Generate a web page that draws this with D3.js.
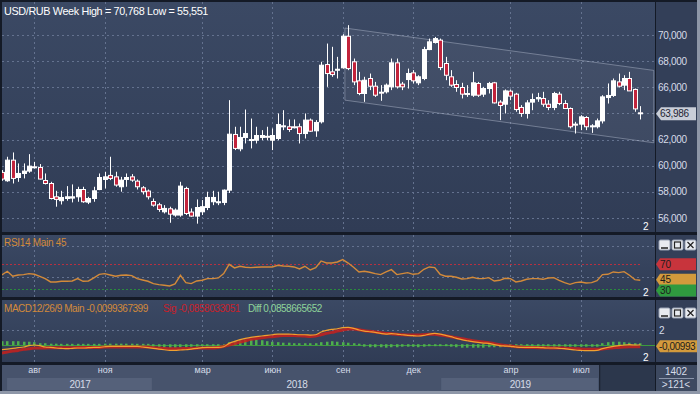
<!DOCTYPE html>
<html>
<head>
<meta charset="utf-8">
<script src="https://cdn.jsdelivr.net/npm/d3@7"></script>
<style>
    html, body { margin: 0; padding: 0; background: #8e97a8; }
    svg { display: block; font-family: "Liberation Sans", Arial, sans-serif; }
</style>
</head>
<body>
<svg id="chart" width="700" height="394"></svg>
<script>
// Weekly USD/RUB candles, Jun 2017 - Sep 2019 (one entry per week)
const opens = [
    59.48, 58.84, 60.42, 59.09, 59.40, 59.58, 59.91, 59.86, 58.86, 58.63,
    57.61, 57.31, 57.48, 57.51, 57.61, 58.17, 57.20, 57.48, 58.17, 58.94,
    59.25, 59.14, 58.38, 58.94, 59.14, 58.81, 58.30, 58.05, 57.25, 57.00,
    56.46, 56.69, 56.21, 56.21, 58.25, 56.44, 56.13, 56.46, 56.79, 57.23,
    57.20, 57.18, 58.12, 62.39, 61.29, 62.16, 61.95, 61.95, 62.16, 62.25,
    61.95, 62.08, 63.00, 62.98, 62.98, 62.98, 62.46, 63.49, 62.67, 63.36,
    67.75, 67.19, 67.35, 67.50, 69.92, 67.96, 66.50, 65.53, 66.68, 66.09,
    65.63, 65.66, 66.04, 67.88, 66.25, 66.60, 67.11, 66.35, 66.68, 68.90,
    69.44, 69.62, 67.83, 66.81, 66.22, 65.99, 65.53, 65.40, 66.30, 65.48,
    65.91, 66.35, 64.87, 64.71, 65.71, 65.48, 64.46, 64.00, 64.87, 65.12,
    65.15, 64.71, 64.46, 65.48, 64.76, 64.38, 63.18, 63.18, 63.69, 63.03,
    62.98, 63.43, 65.22, 65.38, 66.42, 66.17, 66.68, 65.84, 64.05
];
const highs = [
    59.66, 60.68, 61.01, 60.17, 60.17, 60.88, 60.29, 60.12, 59.40, 58.76,
    58.07, 58.07, 58.43, 58.56, 58.38, 58.38, 57.61, 58.38, 59.40, 59.53,
    60.68, 59.53, 59.14, 59.40, 59.35, 58.94, 58.43, 58.17, 57.48, 57.15,
    56.97, 56.85, 56.72, 58.76, 58.38, 56.72, 57.41, 57.36, 58.00, 58.07,
    58.00, 58.17, 65.02, 62.98, 62.98, 64.30, 63.61, 62.98, 62.72, 62.98,
    62.85, 64.00, 64.25, 63.54, 63.54, 63.23, 64.00, 63.61, 63.49, 67.96,
    69.36, 69.11, 68.34, 70.08, 70.77, 68.21, 67.19, 66.81, 67.06, 66.42,
    66.17, 66.30, 68.21, 68.21, 66.42, 67.44, 67.32, 66.93, 69.11, 69.74,
    69.87, 69.74, 68.34, 67.32, 66.55, 66.35, 66.17, 67.19, 66.42, 66.04,
    66.42, 66.42, 65.02, 65.84, 65.84, 65.58, 64.64, 65.02, 65.53, 65.58,
    65.66, 65.02, 65.66, 65.66, 65.02, 64.46, 63.36, 63.87, 63.79, 63.18,
    63.61, 65.40, 66.30, 66.68, 67.06, 66.93, 67.19, 65.91, 64.56
];
const lows = [
    58.84, 58.76, 58.63, 58.76, 59.02, 59.45, 59.78, 58.94, 58.56, 57.41,
    56.85, 57.02, 57.31, 57.18, 57.23, 57.15, 57.05, 57.23, 58.12, 58.25,
    58.89, 58.38, 58.00, 58.38, 58.76, 58.17, 57.79, 57.41, 56.85, 56.46,
    56.33, 55.62, 56.08, 56.08, 56.21, 56.08, 55.55, 56.21, 56.59, 56.97,
    56.97, 56.97, 57.90, 61.19, 61.10, 61.70, 61.32, 61.70, 61.95, 61.95,
    61.19, 61.95, 62.72, 62.59, 62.85, 61.70, 62.08, 62.59, 62.21, 63.23,
    66.04, 66.81, 66.68, 67.44, 67.32, 66.17, 65.40, 64.89, 65.79, 65.27,
    64.97, 65.53, 65.79, 65.91, 65.79, 65.91, 66.30, 66.17, 66.55, 68.85,
    69.36, 67.32, 66.55, 66.04, 65.66, 65.15, 65.27, 65.27, 65.27, 65.27,
    65.53, 64.76, 63.49, 64.00, 65.02, 64.13, 63.74, 63.61, 64.25, 64.89,
    64.51, 64.25, 64.25, 64.64, 64.38, 62.85, 62.46, 62.72, 62.72, 62.51,
    62.85, 63.23, 64.76, 65.27, 65.99, 65.79, 65.73, 64.13, 63.54
];
const closes = [
    58.97, 60.42, 59.02, 59.40, 59.58, 59.96, 59.86, 58.97, 58.63, 57.48,
    57.41, 57.56, 57.61, 57.61, 58.17, 57.23, 57.48, 58.07, 59.09, 59.14,
    59.02, 58.51, 58.89, 59.09, 58.89, 58.38, 58.00, 57.61, 56.97, 56.64,
    56.72, 56.28, 56.59, 58.43, 56.33, 56.13, 56.79, 56.85, 57.56, 57.56,
    57.23, 58.12, 62.41, 61.32, 62.16, 62.46, 62.00, 62.31, 62.31, 62.21,
    62.31, 63.15, 63.05, 62.77, 62.95, 62.46, 63.49, 62.64, 63.31, 67.70,
    67.06, 66.98, 67.39, 69.92, 67.44, 66.42, 65.53, 66.55, 66.09, 65.40,
    65.61, 66.17, 67.88, 66.04, 66.04, 67.06, 66.50, 66.81, 68.90, 69.49,
    69.74, 67.52, 66.93, 66.17, 65.99, 65.48, 65.45, 66.35, 65.40, 65.91,
    66.30, 64.81, 64.61, 65.73, 65.33, 64.30, 64.00, 64.81, 65.07, 65.22,
    64.71, 64.46, 65.53, 64.76, 64.38, 62.98, 63.13, 63.74, 62.98, 63.05,
    63.43, 65.27, 65.38, 66.50, 66.09, 66.68, 65.73, 64.35, 63.986
];

// RSI(14) per week
const rsiValues = [
    53.0, 58.7, 50.6, 52.7, 53.3, 54.9, 53.8, 50.6, 46.8, 41.4,
    41.4, 42.5, 42.5, 43.0, 46.8, 42.5, 43.0, 47.9, 53.8, 54.9,
    52.7, 50.6, 52.2, 52.7, 51.7, 46.8, 44.6, 42.5, 38.7, 37.1,
    36.0, 34.9, 38.2, 52.2, 40.3, 38.7, 43.0, 44.1, 46.8, 46.8,
    47.9, 54.9, 70.0, 64.1, 66.8, 65.2, 64.6, 65.2, 65.7, 65.7,
    65.7, 68.4, 67.3, 66.8, 65.7, 62.5, 66.8, 60.8, 64.6, 75.4,
    72.2, 72.2, 73.8, 77.6, 72.0, 65.2, 57.6, 58.7, 57.1, 54.9,
    53.3, 57.6, 61.4, 53.3, 54.9, 56.5, 53.8, 54.9, 61.9, 65.7,
    64.6, 53.8, 50.6, 50.6, 49.0, 46.3, 46.8, 49.0, 46.8, 46.8,
    48.4, 43.0, 44.1, 47.3, 46.8, 41.4, 43.0, 45.7, 46.8, 46.8,
    45.7, 47.9, 48.4, 44.1, 40.3, 37.6, 40.3, 41.4, 39.8, 40.3,
    43.5, 53.3, 53.8, 57.6, 56.5, 58.1, 52.2, 45.2, 44.1
];
const rsiLevels = [70, 45, 30];
const rsiLevelLabels = ['70', '45', '30'];

// MACD(12,26,9) per week
const macdMain = [
    -0.67, -0.58, -0.49, -0.40, -0.31, -0.13, -0.04, -0.13, -0.31, -0.36,
    -0.44, -0.49, -0.53, -0.49, -0.44, -0.44, -0.40, -0.36, -0.36, -0.27,
    -0.22, -0.22, -0.22, -0.22, -0.22, -0.22, -0.31, -0.40, -0.49, -0.58,
    -0.67, -0.76, -0.76, -0.71, -0.67, -0.58, -0.49, -0.40, -0.36, -0.36,
    -0.36, -0.27, 0.18, 0.44, 0.67, 0.84, 0.98, 1.07, 1.16, 1.24,
    1.33, 1.42, 1.42, 1.42, 1.38, 1.33, 1.33, 1.29, 1.33, 1.69,
    1.91, 2.04, 2.13, 2.27, 2.31, 2.18, 1.96, 1.82, 1.73, 1.64,
    1.51, 1.42, 1.47, 1.42, 1.33, 1.24, 1.20, 1.16, 1.24, 1.42,
    1.51, 1.42, 1.24, 1.07, 0.84, 0.67, 0.53, 0.40, 0.31, 0.22,
    0.18, 0.00, -0.13, -0.18, -0.22, -0.31, -0.36, -0.36, -0.36, -0.36,
    -0.40, -0.44, -0.44, -0.49, -0.53, -0.62, -0.71, -0.76, -0.80, -0.80,
    -0.76, -0.53, -0.36, -0.22, -0.13, -0.04, 0.00, -0.04, -0.01
];
const macdSignal = [
    -1.11, -0.98, -0.84, -0.76, -0.62, -0.53, -0.44, -0.44, -0.44, -0.40,
    -0.40, -0.40, -0.40, -0.40, -0.38, -0.38, -0.36, -0.36, -0.36, -0.31,
    -0.31, -0.31, -0.31, -0.31, -0.31, -0.31, -0.31, -0.31, -0.40, -0.44,
    -0.49, -0.53, -0.53, -0.53, -0.49, -0.49, -0.46, -0.44, -0.44, -0.44,
    -0.36, -0.22, -0.04, 0.13, 0.36, 0.53, 0.71, 0.84, 0.93, 1.02,
    1.07, 1.16, 1.24, 1.24, 1.22, 1.18, 1.15, 1.11, 1.16, 1.33,
    1.51, 1.64, 1.82, 1.96, 2.09, 2.09, 2.00, 1.87, 1.78, 1.69,
    1.60, 1.51, 1.47, 1.38, 1.33, 1.29, 1.29, 1.29, 1.33, 1.38,
    1.38, 1.29, 1.20, 1.07, 0.93, 0.80, 0.67, 0.53, 0.44, 0.36,
    0.27, 0.13, 0.00, -0.09, -0.18, -0.27, -0.31, -0.36, -0.38, -0.40,
    -0.40, -0.42, -0.44, -0.44, -0.46, -0.49, -0.53, -0.58, -0.62, -0.62,
    -0.62, -0.58, -0.49, -0.40, -0.36, -0.31, -0.27, -0.27, -0.27
];
const macdHist = [
    0.40, 0.40, 0.40, 0.40, 0.33, 0.33, 0.27, 0.13, 0.13, 0.07,
    0.07, 0.05, 0.05, 0.05, 0.05, 0.05, 0.05, 0.05, 0.05, 0.07,
    0.07, 0.07, 0.07, 0.07, 0.07, 0.05, 0.05, 0.05, -0.20, -0.27,
    -0.33, -0.33, -0.33, -0.27, -0.27, -0.20, -0.20, -0.13, -0.13, -0.13,
    -0.07, -0.07, 0.27, 0.40, 0.53, 0.60, 0.67, 0.60, 0.53, 0.40,
    0.33, 0.27, 0.20, 0.20, 0.13, 0.13, 0.13, 0.13, 0.13, 0.27,
    0.33, 0.40, 0.33, 0.27, 0.20, 0.13, 0.07, -0.20, -0.27, -0.27,
    -0.27, -0.33, -0.27, -0.27, -0.20, -0.20, -0.20, -0.27, -0.20, -0.13,
    -0.07, -0.07, -0.13, -0.20, -0.27, -0.33, -0.33, -0.33, -0.33, -0.33,
    -0.27, -0.27, -0.27, -0.20, -0.20, -0.20, -0.13, -0.13, -0.20, -0.20,
    -0.20, -0.20, -0.20, -0.20, -0.20, -0.20, -0.20, -0.20, -0.20, -0.20,
    -0.20, 0.13, 0.27, 0.33, 0.33, 0.27, 0.20, 0.13, 0.13
];

// Time axis (week index where each month / year starts)
const monthTickIdx = [6, 19, 37, 50, 63, 76, 94, 107];
const monthLabels = ['авг', 'ноя', 'мар', 'июн', 'сен', 'дек', 'апр', 'июл'];
const yearLabels = ['2017', '2018', '2019'];
const yearStartIdx = [0.95, 27.9, 81.2];
const yearEndIdx = [27.9, 81.2, 110.4];

// Price axis ticks
const priceTicks = [56, 58, 60, 62, 64, 66, 68, 70];

// Descending channel drawn on the chart: [week index, price]
const channelUpper = [[63.4, 70.55], [120.5, 67.30]];
const channelLower = [[63.4, 65.02], [120.5, 61.75]];

const lastPrice = 63.986;

// ---------------------------------------------------------------
const svg = d3.select('#chart');

// Layout of the panels
const plotLeft = 2, plotRight = 655, colRight = 697;
const mainP = {top: 2, bottom: 232};
const rsiP = {top: 235, bottom: 297};
const macdP = {top: 300, bottom: 362};
const axisP = {top: 365, bottom: 391};

const colors = {
    frame: '#141a26',
    panelTop: '#3b4964',
    panelBottom: '#303c55',
    column: '#333f58',
    grid: '#64728f',
    text: '#d6dce8',
    up: '#ffffff',
    down: '#c2243c',
    rsi: '#d38a3a',
    macd: '#f0a030',
    signal: '#c8201c',
    hist: '#4fae4f',
    zero: '#3c9a3c'
};

// Numbers use a comma as decimal separator
const ru = d3.formatLocale({decimal: ',', thousands: ' ', grouping: [3], currency: ['', '']});
const fmt3 = ru.format('.3f');

// Scales
const x = d3.scaleLinear().domain([0, 118]).range([1.9, 640.3]);
const yPrice = d3.scaleLinear().domain([56, 70]).range([217.8, 35.2]);
const yRsi = d3.scaleLinear().domain([30, 70]).range([289, 264.3]);
const yMacd = d3.scaleLinear().domain([-2, 2]).range([359.7, 329.7]);

// Gradient for the panel background
const defs = svg.append('defs');
const grad = defs.append('linearGradient').attr('id', 'panelGrad')
    .attr('x1', 0).attr('y1', 0).attr('x2', 0).attr('y2', 1);
grad.append('stop').attr('offset', '0%').attr('stop-color', colors.panelTop);
grad.append('stop').attr('offset', '100%').attr('stop-color', colors.panelBottom);

[mainP, rsiP, macdP].forEach((p, k) => {
    defs.append('clipPath').attr('id', 'clip' + k)
        .append('rect')
        .attr('x', plotLeft).attr('y', p.top)
        .attr('width', plotRight - plotLeft).attr('height', p.bottom - p.top);
});

// Frame and panel backgrounds
svg.append('rect').attr('width', 700).attr('height', 394).attr('fill', colors.frame);
svg.append('rect').attr('x', 697).attr('y', 0).attr('width', 3).attr('height', 394).attr('fill', '#8e97a8');
svg.append('rect').attr('x', 0).attr('y', 391).attr('width', 700).attr('height', 3).attr('fill', '#8e97a8');

[mainP, rsiP, macdP].forEach((p) => {
    svg.append('rect')
        .attr('x', plotLeft).attr('y', p.top)
        .attr('width', plotRight - plotLeft).attr('height', p.bottom - p.top)
        .attr('fill', 'url(#panelGrad)');
    svg.append('rect')
        .attr('x', plotRight + 1).attr('y', p.top)
        .attr('width', colRight - plotRight - 1).attr('height', p.bottom - p.top)
        .attr('fill', colors.column);
});

// Vertical grid lines at month starts, in all three panels
[mainP, rsiP, macdP].forEach((p) => {
    svg.append('g').selectAll('line')
        .data(monthTickIdx)
        .join('line')
        .attr('x1', d => Math.round(x(d)) + 0.5)
        .attr('x2', d => Math.round(x(d)) + 0.5)
        .attr('y1', p.top)
        .attr('y2', p.bottom)
        .attr('stroke', colors.grid)
        .attr('stroke-dasharray', '2,3');
});

// ---------------- Main price panel ----------------
const main = svg.append('g').attr('clip-path', 'url(#clip0)');

main.append('g').selectAll('line')
    .data(priceTicks)
    .join('line')
    .attr('x1', plotLeft).attr('x2', plotRight)
    .attr('y1', d => Math.round(yPrice(d)) + 0.5)
    .attr('y2', d => Math.round(yPrice(d)) + 0.5)
    .attr('stroke', colors.grid)
    .attr('stroke-dasharray', '2,3');

// Channel (filled parallelogram)
const chanPts = channelUpper.concat(channelLower.slice().reverse());
main.append('path')
    .attr('d', d3.line().x(d => x(d[0])).y(d => yPrice(d[1]))(chanPts) + 'Z')
    .attr('fill', '#ffffff').attr('fill-opacity', 0.05)
    .attr('stroke', '#c8d0e0').attr('stroke-opacity', 0.4).attr('stroke-width', 1);

// Candles
const weeks = d3.range(opens.length);
const candles = main.append('g').selectAll('g')
    .data(weeks)
    .join('g');

candles.append('line')
    .attr('x1', i => Math.round(x(i)) + 0.5)
    .attr('x2', i => Math.round(x(i)) + 0.5)
    .attr('y1', i => yPrice(highs[i]))
    .attr('y2', i => yPrice(lows[i]))
    .attr('stroke', '#ffffff');

candles.append('rect')
    .attr('x', i => Math.round(x(i)) - 1.5)
    .attr('width', 4)
    .attr('y', i => Math.min(yPrice(opens[i]), yPrice(closes[i])))
    .attr('height', i => Math.max(1, Math.abs(yPrice(opens[i]) - yPrice(closes[i]))))
    .attr('fill', i => closes[i] < opens[i] ? colors.down : colors.up)
    .attr('stroke', '#ffffff')
    .attr('stroke-width', 1);

// Title
svg.append('text')
    .attr('x', 4).attr('y', 15)
    .attr('fill', '#ffffff')
    .attr('font-size', 10.8)
    .attr('letter-spacing', -0.35)
    .text('USD/RUB Week High = 70,768 Low = 55,551');

// Price axis on the right (the label under the last-price tag is hidden)
const tagY = yPrice(lastPrice);
const priceAxis = d3.axisRight(yPrice)
    .tickValues(priceTicks.filter(d => Math.abs(yPrice(d) - tagY) > 9))
    .tickSize(0)
    .tickPadding(3)
    .tickFormat(d => fmt3(d));
const pa = svg.append('g')
    .attr('transform', `translate(${plotRight},0)`)
    .call(priceAxis);
pa.select('.domain').remove();
pa.selectAll('text')
    .attr('fill', colors.text)
    .attr('font-size', 10)
    .attr('font-family', '"Liberation Sans", Arial, sans-serif')
    .attr('letter-spacing', -0.3);

// Last price tag
svg.append('path')
    .attr('d', `M${plotRight + 1},${tagY} L${plotRight + 6},${tagY - 6.5} L${colRight - 1},${tagY - 6.5} L${colRight - 1},${tagY + 6.5} L${plotRight + 6},${tagY + 6.5}Z`)
    .attr('fill', '#c9ced8');
svg.append('text')
    .attr('x', plotRight + 5).attr('y', tagY + 3.5)
    .attr('fill', '#1d2433').attr('font-size', 10).attr('letter-spacing', -0.3)
    .text(fmt3(lastPrice));

// Small panel numbers in the corner
function cornerLabel(px, py) {
    svg.append('text')
        .attr('x', px).attr('y', py)
        .attr('fill', '#ffffff').attr('font-size', 10)
        .text('2');
}
cornerLabel(643, mainP.bottom - 2);
cornerLabel(643, rsiP.bottom - 1);
cornerLabel(643, macdP.bottom - 1);

// ---------------- RSI panel ----------------
const rsiG = svg.append('g').attr('clip-path', 'url(#clip1)');

rsiG.append('g').selectAll('line')
    .data([50, 100])
    .join('line')
    .attr('x1', plotLeft).attr('x2', plotRight)
    .attr('y1', d => Math.round(yRsi(d)) + 0.5)
    .attr('y2', d => Math.round(yRsi(d)) + 0.5)
    .attr('stroke', colors.grid)
    .attr('stroke-dasharray', '2,3');

const levelColors = ['#b83040', '#2a8a3e'];
rsiG.append('g').selectAll('line')
    .data([70, 30])
    .join('line')
    .attr('x1', plotLeft).attr('x2', x(118))
    .attr('y1', d => Math.round(yRsi(d)) + 0.5)
    .attr('y2', d => Math.round(yRsi(d)) + 0.5)
    .attr('stroke', (d, k) => levelColors[k])
    .attr('stroke-dasharray', '2,2');

rsiG.append('path')
    .datum(rsiValues)
    .attr('d', d3.line().x((d, i) => x(i)).y(d => yRsi(d)))
    .attr('fill', 'none')
    .attr('stroke', colors.rsi)
    .attr('stroke-width', 1.4);

svg.append('text')
    .attr('x', 4).attr('y', rsiP.top + 11)
    .attr('fill', colors.rsi).attr('font-size', 10).attr('letter-spacing', -0.3)
    .text('RSI14  Main 45');

// RSI level tags on the right
const tagFill = ['#c8343c', '#d39a3c', '#2f9a3f'];
const tagTop = [yRsi(70) - 6, yRsi(45) - 6, yRsi(30) - 4.5];
rsiLevels.forEach((lv, k) => {
    const cy = tagTop[k] + 6;
    svg.append('path')
        .attr('d', `M${plotRight + 1},${cy} L${plotRight + 5},${tagTop[k]} L${colRight - 1},${tagTop[k]} L${colRight - 1},${tagTop[k] + 12} L${plotRight + 5},${tagTop[k] + 12}Z`)
        .attr('fill', tagFill[k]);
    svg.append('text')
        .attr('x', plotRight + 5).attr('y', cy + 3.5)
        .attr('fill', '#1d1d1d').attr('font-size', 10)
        .text(rsiLevelLabels[k]);
});

// ---------------- MACD panel ----------------
const macdG = svg.append('g').attr('clip-path', 'url(#clip2)');

macdG.append('line')
    .attr('x1', plotLeft).attr('x2', plotRight)
    .attr('y1', Math.round(yMacd(2)) + 0.5).attr('y2', Math.round(yMacd(2)) + 0.5)
    .attr('stroke', colors.grid).attr('stroke-dasharray', '2,3');

macdG.append('line')
    .attr('x1', plotLeft).attr('x2', plotRight)
    .attr('y1', Math.round(yMacd(0)) + 0.5).attr('y2', Math.round(yMacd(0)) + 0.5)
    .attr('stroke', colors.zero).attr('stroke-width', 1);

macdG.append('g').selectAll('rect')
    .data(macdHist)
    .join('rect')
    .attr('x', (d, i) => Math.round(x(i)) - 1)
    .attr('width', 2.5)
    .attr('y', d => Math.min(yMacd(0), yMacd(d)) - 0.5)
    .attr('height', d => Math.max(2, Math.abs(yMacd(d) - yMacd(0)) + 1))
    .attr('fill', colors.hist);

macdG.append('path')
    .datum(macdSignal)
    .attr('d', d3.line().x((d, i) => x(i)).y(d => yMacd(d)).curve(d3.curveMonotoneX))
    .attr('fill', 'none')
    .attr('stroke', colors.signal)
    .attr('stroke-width', 3)
    .attr('stroke-opacity', 0.85);

macdG.append('path')
    .datum(macdMain)
    .attr('d', d3.line().x((d, i) => x(i)).y(d => yMacd(d)).curve(d3.curveMonotoneX))
    .attr('fill', 'none')
    .attr('stroke', colors.macd)
    .attr('stroke-width', 1.2);

// MACD legend: three coloured parts at fixed starts
const macdTitle = svg.append('g')
    .attr('font-size', 10).attr('letter-spacing', -0.45);
macdTitle.append('text').attr('x', 4).attr('y', macdP.top + 12)
    .attr('fill', colors.rsi).text('MACD12/26/9  Main -0,0099367399');
macdTitle.append('text').attr('x', 163).attr('y', macdP.top + 12)
    .attr('fill', '#c8202a').text('Sig -0,0858033051');
macdTitle.append('text').attr('x', 248).attr('y', macdP.top + 12)
    .attr('fill', '#8fd49a').text('Diff 0,0858665652');

// MACD scale labels and value tag
svg.append('text')
    .attr('x', plotRight + 4).attr('y', yMacd(2) + 4)
    .attr('fill', colors.text).attr('font-size', 10).text('2');
const mTag = yMacd(0) + 1.5;
svg.append('path')
    .attr('d', `M${plotRight + 1},${mTag} L${plotRight + 5},${mTag - 6} L${colRight},${mTag - 6} L${colRight},${mTag + 6} L${plotRight + 5},${mTag + 6}Z`)
    .attr('fill', '#d39a3c');
svg.append('text')
    .attr('x', plotRight + 4).attr('y', mTag + 3.5)
    .attr('fill', '#1d1d1d').attr('font-size', 10).attr('letter-spacing', -0.4)
    .text('-0,00993');

// Window buttons in the indicator panels
function windowButtons(top) {
    const g = svg.append('g').attr('transform', `translate(${plotRight + 4},${top})`);
    [0, 13, 26].forEach((dx, k) => {
        g.append('rect').attr('x', dx).attr('y', 0).attr('width', 11).attr('height', 10)
            .attr('rx', 1.5).attr('fill', '#e8ebf0').attr('stroke', '#9aa3b4');
        if (k === 0) {
            g.append('line').attr('x1', dx + 2).attr('x2', dx + 9).attr('y1', 8).attr('y2', 8)
                .attr('stroke', '#222').attr('stroke-width', 1.5);
        } else if (k === 1) {
            g.append('rect').attr('x', dx + 2.5).attr('y', 2).attr('width', 6).attr('height', 6)
                .attr('fill', 'none').attr('stroke', '#222').attr('stroke-width', 1.2);
        } else {
            g.append('path').attr('d', `M${dx + 2.5},2 L${dx + 8.5},8 M${dx + 8.5},2 L${dx + 2.5},8`)
                .attr('stroke', '#222').attr('stroke-width', 1.2);
        }
    });
}
windowButtons(rsiP.top + 5);
windowButtons(macdP.top + 8);

// ---------------- Time axis ----------------
svg.append('rect')
    .attr('x', plotLeft).attr('y', axisP.top)
    .attr('width', x(yearEndIdx[2]) - plotLeft).attr('height', axisP.bottom - axisP.top)
    .attr('fill', '#47536c');
svg.append('rect')
    .attr('x', x(yearEndIdx[2]) + 1).attr('y', axisP.top)
    .attr('width', plotRight - x(yearEndIdx[2]) - 1).attr('height', axisP.bottom - axisP.top)
    .attr('fill', '#2c374c');
svg.append('rect')
    .attr('x', plotRight + 1).attr('y', axisP.top)
    .attr('width', colRight - plotRight - 1).attr('height', axisP.bottom - axisP.top)
    .attr('fill', '#3d4960');

// Year bands
svg.append('g').selectAll('rect')
    .data(yearLabels)
    .join('rect')
    .attr('x', (d, k) => x(yearStartIdx[k]))
    .attr('width', (d, k) => x(yearEndIdx[k]) - x(yearStartIdx[k]) - 1)
    .attr('y', axisP.top + 13)
    .attr('height', 12)
    .attr('fill', (d, k) => k === 1 ? '#47536c' : '#55617a');

svg.append('g').selectAll('text')
    .data(yearLabels)
    .join('text')
    .attr('x', (d, k) => (x(yearStartIdx[k]) + x(yearEndIdx[k])) / 2)
    .attr('y', axisP.top + 23)
    .attr('text-anchor', 'middle')
    .attr('fill', colors.text).attr('font-size', 10).attr('letter-spacing', -0.3)
    .text(d => d);

const timeAxis = d3.axisBottom(x)
    .tickValues(monthTickIdx)
    .tickSize(0)
    .tickPadding(0)
    .tickFormat((d, k) => monthLabels[k]);
const ta = svg.append('g')
    .attr('transform', `translate(0,${axisP.top + 2})`)
    .call(timeAxis);
ta.select('.domain').remove();
ta.selectAll('text')
    .attr('fill', colors.text)
    .attr('font-size', 9)
    .attr('font-family', '"Liberation Sans", Arial, sans-serif');

svg.append('line')
    .attr('x1', plotRight + 4).attr('x2', colRight - 3)
    .attr('y1', axisP.top + 13.5).attr('y2', axisP.top + 13.5)
    .attr('stroke', '#8a95aa');
svg.append('text')
    .attr('x', (plotRight + colRight) / 2).attr('y', axisP.top + 10)
    .attr('text-anchor', 'middle').attr('fill', colors.text).attr('font-size', 10)
    .text('1402');
svg.append('text')
    .attr('x', (plotRight + colRight) / 2).attr('y', axisP.top + 23)
    .attr('text-anchor', 'middle').attr('fill', colors.text).attr('font-size', 10)
    .text('>121<');
</script>
</body>
</html>
